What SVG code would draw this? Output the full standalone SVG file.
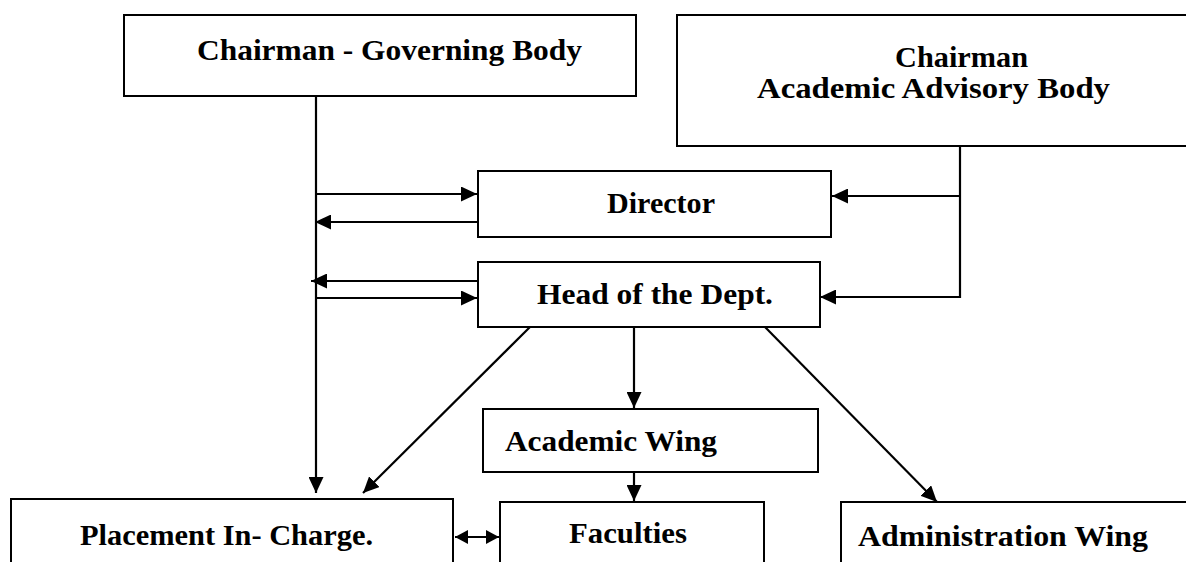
<svg xmlns="http://www.w3.org/2000/svg" width="1186" height="562" viewBox="0 0 1186 562">
<defs>
<style>
.box{fill:#fff;stroke:#000;stroke-width:2}
.t{font-family:"Liberation Serif","Times New Roman",serif;font-weight:bold;font-size:29px;fill:#000}
.c{fill:none;stroke:#000;stroke-width:2.2}
</style>
<marker id="ah" markerUnits="userSpaceOnUse" markerWidth="17" markerHeight="15" refX="16" refY="7.5" orient="auto-start-reverse" viewBox="0 0 17 15">
<path d="M0,0 L16,7.5 L0,15 z" fill="#000"/>
</marker>
<marker id="ahs" markerUnits="userSpaceOnUse" markerWidth="14" markerHeight="14" refX="13" refY="7" orient="auto-start-reverse" viewBox="0 0 14 14">
<path d="M0,0 L13,7 L0,14 z" fill="#000"/>
</marker>
</defs>
<rect width="1186" height="562" fill="#fff"/>
<g id="connectors">
<path class="c" d="M316,96 V493" marker-end="url(#ah)"/>
<path class="c" d="M316,194 H477" marker-end="url(#ah)"/>
<path class="c" d="M480,222 H315" marker-end="url(#ah)"/>
<path class="c" d="M478,281 H311" marker-end="url(#ah)"/>
<path class="c" d="M316,298 H477" marker-end="url(#ah)"/>
<path class="c" d="M960,146 V298"/>
<path class="c" d="M960,196 H832" marker-end="url(#ah)"/>
<path class="c" d="M960,297 H820" marker-end="url(#ah)"/>
<path class="c" d="M530,327 L363,493" marker-end="url(#ah)"/>
<path class="c" d="M634,327 V408" marker-end="url(#ah)"/>
<path class="c" d="M765,327 L937,502" marker-end="url(#ah)"/>
<path class="c" d="M634,472 V501" marker-end="url(#ah)"/>
<path class="c" d="M455,537 H499" marker-start="url(#ahs)" marker-end="url(#ahs)"/>
</g>
<g id="chairman-gb">
<rect class="box" x="124" y="15" width="512" height="81"/>
<text class="t" x="197" y="60" textLength="385" lengthAdjust="spacingAndGlyphs">Chairman - Governing Body</text>
</g>
<g id="chairman-aab">
<rect class="box" x="677" y="15" width="520" height="131"/>
<text class="t" x="895" y="67" textLength="133" lengthAdjust="spacingAndGlyphs">Chairman</text>
<text class="t" x="757" y="98" textLength="353" lengthAdjust="spacingAndGlyphs">Academic Advisory Body</text>
</g>
<g id="director">
<rect class="box" x="478" y="171" width="353" height="66"/>
<text class="t" x="607" y="213" textLength="108" lengthAdjust="spacingAndGlyphs">Director</text>
</g>
<g id="hod">
<rect class="box" x="478" y="262" width="342" height="65"/>
<text class="t" x="537" y="304" textLength="236" lengthAdjust="spacingAndGlyphs">Head of the Dept.</text>
</g>
<g id="academic-wing">
<rect class="box" x="483" y="409" width="335" height="63"/>
<text class="t" x="505" y="451" textLength="212" lengthAdjust="spacingAndGlyphs">Academic Wing</text>
</g>
<g id="placement">
<rect class="box" x="11" y="499" width="442" height="80"/>
<text class="t" x="80" y="545" textLength="293" lengthAdjust="spacingAndGlyphs">Placement In- Charge.</text>
</g>
<g id="faculties">
<rect class="box" x="500" y="502" width="264" height="80"/>
<text class="t" x="569" y="543" textLength="118" lengthAdjust="spacingAndGlyphs">Faculties</text>
</g>
<g id="administration">
<rect class="box" x="841" y="502" width="360" height="80"/>
<text class="t" x="858" y="546" textLength="290" lengthAdjust="spacingAndGlyphs">Administration Wing</text>
</g>
</svg>
